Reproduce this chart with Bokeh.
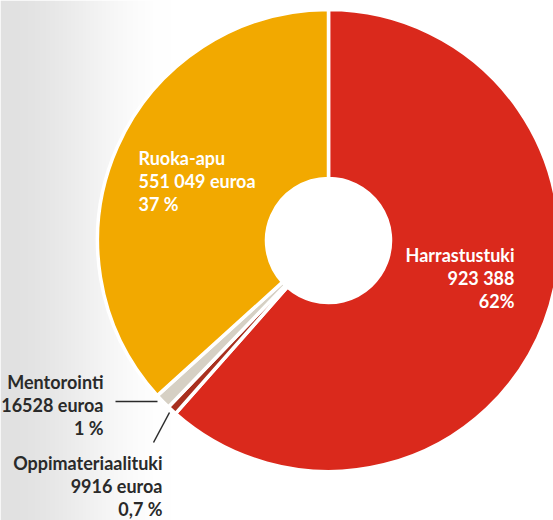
import numpy as np
from bokeh.plotting import figure
from bokeh.models import Range1d
from bokeh.core.properties import value
from bokeh.embed import file_html
from bokeh.resources import INLINE

# ---- data ----
categories = ["Harrastustuki", "Oppimateriaalituki", "Mentorointi", "Ruoka-apu"]
amounts = [923388, 9916, 16528, 551049]
amount_labels = ["923 388", "9916 euroa", "16528 euroa", "551 049 euroa"]
percent_labels = ["62%", "0,7 %", "1 %", "37 %"]
colors = ["#DA291C", "#A8301F", "#D6D0C4", "#F2A900"]

# ---- layout/style ----
W, H = 553, 520
cx, cy = 328, H - 240
R_OUT, R_IN = 231, 62
FONT = value("Lato")
FS = "18px"
LINE_H = 23.2

p = figure(width=W, height=H, output_backend="svg", toolbar_location=None,
           x_range=Range1d(0, W), y_range=Range1d(0, H), min_border=0)
p.axis.visible = False
p.grid.visible = False
p.outline_line_color = None
p.background_fill_color = "white"
p.border_fill_color = "white"

# background gradient (light grey at left fading smoothly to white)
xs = np.arange(W)
t = np.clip(xs / 170.0, 0, 1)
smooth = 1 - (3 * t ** 2 - 2 * t ** 3)
g = (255 - 30 * smooth).astype(np.uint32)
row = (255 << 24) | (g << 16) | (g << 8) | g
img = np.tile(row, (2, 1)).astype(np.uint32)
p.image_rgba(image=[img], x=0, y=0, dw=W, dh=H)

# wedges, clockwise from top
total = float(sum(amounts))
fr = np.array(amounts) / total
cum = np.concatenate([[0], np.cumsum(fr)])
ends = np.pi / 2 - 2 * np.pi * cum[:-1]
starts = np.pi / 2 - 2 * np.pi * cum[1:]
p.annular_wedge(x=cx, y=cy, inner_radius=R_IN, outer_radius=R_OUT,
                start_angle=list(starts), end_angle=list(ends),
                fill_color=colors, line_color="white", line_width=3.5)

# labels: (anchor x, first line y (screen), align, color)
label_pos = {
    "Harrastustuki": (514, 254, "right", "white"),
    "Ruoka-apu": (138, 157, "left", "white"),
    "Mentorointi": (103, 381, "right", "#2a2a2a"),
    "Oppimateriaalituki": (162, 462, "right", "#2a2a2a"),
}
for name, amt, pct in zip(categories, amount_labels, percent_labels):
    x0, y0, align, col = label_pos[name]
    lines = [name, amt, pct]
    ys = [H - (y0 + i * LINE_H) for i in range(3)]
    p.text(x=[x0] * 3, y=ys, text=lines, text_font=FONT, text_font_style="bold",
           text_font_size=FS, text_align=align, text_baseline="middle",
           text_color=col)

# leader lines
p.line(x=[115, 157], y=[H - 401, H - 401], line_color="#2a2a2a", line_width=1.5)
p.line(x=[153, 169], y=[H - 442, H - 412], line_color="#2a2a2a", line_width=1.5)

open("out.html", "w").write(file_html(p, INLINE))
